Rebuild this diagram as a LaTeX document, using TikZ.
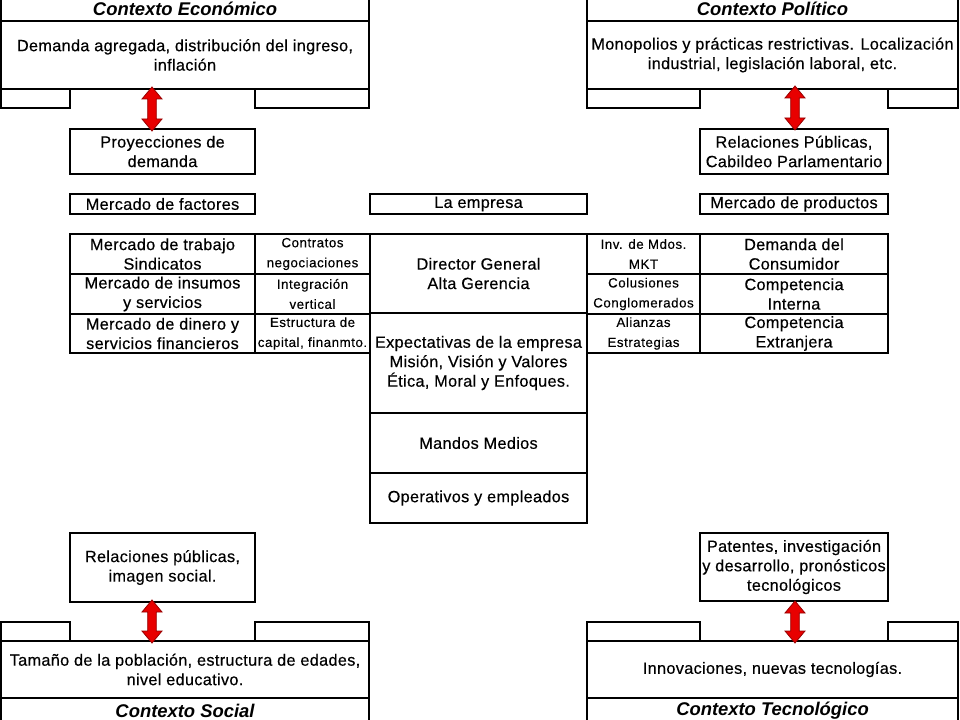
\documentclass[tikz,border=0pt]{standalone}
\usepackage{fontspec}
\setmainfont{Liberation Sans}
\newfontfamily\bodyfam[LetterSpace=2,FakeBold=0.4]{Liberation Sans}
\newfontfamily\smallfam[LetterSpace=4,FakeBold=0.3]{Liberation Sans}
\usetikzlibrary{calc}
\definecolor{arrfill}{RGB}{232,0,0}
\definecolor{arrline}{RGB}{150,0,0}
\newcommand\bodyf{\bodyfam\fontsize{12.2}{14.6}\selectfont}
\newcommand\smallf{\smallfam\fontsize{10}{15}\selectfont}
\newcommand\titlef{\fontsize{13.8}{16}\selectfont\bfseries\itshape}
% box node from (x1,y1) to (x2,y2), in pixel units
\newcommand\bx[6][cell]{\node[#1, minimum width={(#4-#2)*0.75pt}, minimum height={(#5-#3)*0.75pt}] (#6) at ({(#2+#4)/2},{(#3+#5)/2})}
\newcommand\redarrow[2]{%
  \path[redarr] let \p1=(#1), \p2=(#2) in
   (\x1,\y1) -- (\x1+7.5pt,\y1-9pt) -- (\x1+3.2pt,\y1-9pt) -- (\x1+3.2pt,\y2+9pt)
   -- (\x1+7.5pt,\y2+9pt) -- (\x1,\y2) -- (\x1-7.5pt,\y2+9pt) -- (\x1-3.2pt,\y2+9pt)
   -- (\x1-3.2pt,\y1-9pt) -- (\x1-7.5pt,\y1-9pt) -- cycle;}
\begin{document}
\begin{tikzpicture}[x=0.75pt,y=-0.75pt,
  cell/.style={draw, line width=0.8pt, inner sep=0pt, outer sep=0pt, align=center, font=\bodyf},
  scell/.style={cell, font=\smallf},
  titlecell/.style={cell, font=\titlef},
  thickrule/.style={line width=1.7pt},
  redarr/.style={fill=arrfill, draw=arrline, line width=0.6pt, line join=miter}]
\useasboundingbox (0,0) rectangle (960,720);

% ---------- Contexto Economico ----------
\bx[titlecell]{1}{-3}{369}{21}{econT} {Contexto Económico};
\bx{1}{21}{369}{89}{econ} {Demanda agregada, distribución del ingreso,\\inflación};
\bx{1}{89}{70}{108}{econTabL} {};
\bx{255}{89}{369}{108}{econTabR} {};
\draw[thickrule] (econ.north west) -- (econ.north east);
\draw[thickrule] (econ.south west) -- (econ.south east);

% ---------- Contexto Politico ----------
\bx[titlecell]{587}{-3}{958}{21}{polT} {Contexto Político};
\bx{587}{21}{958}{89}{pol} {Monopolios y prácticas restrictivas. Localización\\industrial, legislación laboral, etc.};
\bx{587}{89}{700}{108}{polTabL} {};
\bx{888}{89}{958}{108}{polTabR} {};
\draw[thickrule] (pol.north west) -- (pol.north east);
\draw[thickrule] (pol.south west) -- (pol.south east);

% ---------- upper boxes ----------
\bx{70}{129}{255}{174}{proy} {Proyecciones de\\demanda};
\bx{700}{129}{888}{174}{relp} {Relaciones Públicas,\\Cabildeo Parlamentario};
\bx{70}{194}{255}{214}{mfact} {Mercado de factores};
\bx{370}{194}{587}{214}{lemp} {La empresa};
\bx{700}{194}{888}{214}{mprod} {Mercado de productos};

% ---------- left table ----------
\bx{70}{234}{255}{274}{L1} {Mercado de trabajo\\Sindicatos};
\bx{70}{274}{255}{314}{L2} {Mercado de insumos\\y servicios};
\bx{70}{314}{255}{353}{L3} {Mercado de dinero y\\servicios financieros};
\bx[scell]{255}{234}{370}{274}{S1} {Contratos\\negociaciones};
\bx[scell]{255}{274}{370}{314}{S2} {Integración\\vertical};
\bx[scell]{255}{314}{370}{353}{S3} {Estructura de\\capital, finanmto.};
\draw[thickrule] (L2.north west) -- (S2.north east);

% ---------- center column ----------
\bx{370}{234}{587}{313}{C1} {Director General\\Alta Gerencia};
\bx{370}{313}{587}{413}{C2} {Expectativas de la empresa\\Misión, Visión y Valores\\Ética, Moral y Enfoques.};
\bx{370}{413}{587}{473}{C3} {Mandos Medios};
\bx{370}{473}{587}{523}{C4} {Operativos y empleados};
\draw[thickrule] (C4.north west) -- (C4.north east);

% ---------- right table ----------
\bx[scell]{587}{234}{700}{274}{T1} {Inv. de Mdos.\\MKT};
\bx[scell]{587}{274}{700}{314}{T2} {Colusiones\\Conglomerados};
\bx[scell]{587}{314}{700}{353}{T3} {Alianzas\\Estrategias};
\bx{700}{234}{888}{274}{R1} {Demanda del\\Consumidor};
\bx{700}{274}{888}{314}{R2} {Competencia\\Interna};
\bx{700}{314}{888}{353}{R3} {Competencia\\Extranjera};
\draw[thickrule] (T2.north west) -- (R2.north east);

% ---------- lower boxes ----------
\bx{70}{533}{255}{602}{relsoc} {Relaciones públicas,\\imagen social.};
\bx{700}{533}{888}{601}{pat} {Patentes, investigación\\y desarrollo, pronósticos\\tecnológicos};

% ---------- Contexto Social ----------
\bx{1}{622}{70}{641}{socTabL} {};
\bx{255}{622}{369}{641}{socTabR} {};
\bx{1}{641}{369}{698}{soc} {Tamaño de la población, estructura de edades,\\nivel educativo.};
\bx[titlecell]{1}{698}{369}{723}{socT} {Contexto Social};
\draw[thickrule] (soc.south west) -- (soc.south east);

% ---------- Contexto Tecnologico ----------
\bx{587}{622}{700}{641}{tecTabL} {};
\bx{888}{622}{958}{641}{tecTabR} {};
\bx{587}{641}{958}{698}{tec} {Innovaciones, nuevas tecnologías.};
\bx[titlecell]{587}{698}{958}{723}{tecT} {Contexto Tecnológico};
\draw[thickrule] (tec.south west) -- (tec.south east);

% ---------- red double arrows ----------
\coordinate (a1t) at (152,87);  \coordinate (a1b) at (152,131);
\coordinate (a2t) at (795,86);  \coordinate (a2b) at (795,130);
\coordinate (a3t) at (152,600); \coordinate (a3b) at (152,643);
\coordinate (a4t) at (795,601); \coordinate (a4b) at (795,643);
\redarrow{a1t}{a1b}
\redarrow{a2t}{a2b}
\redarrow{a3t}{a3b}
\redarrow{a4t}{a4b}
\end{tikzpicture}
\end{document}
